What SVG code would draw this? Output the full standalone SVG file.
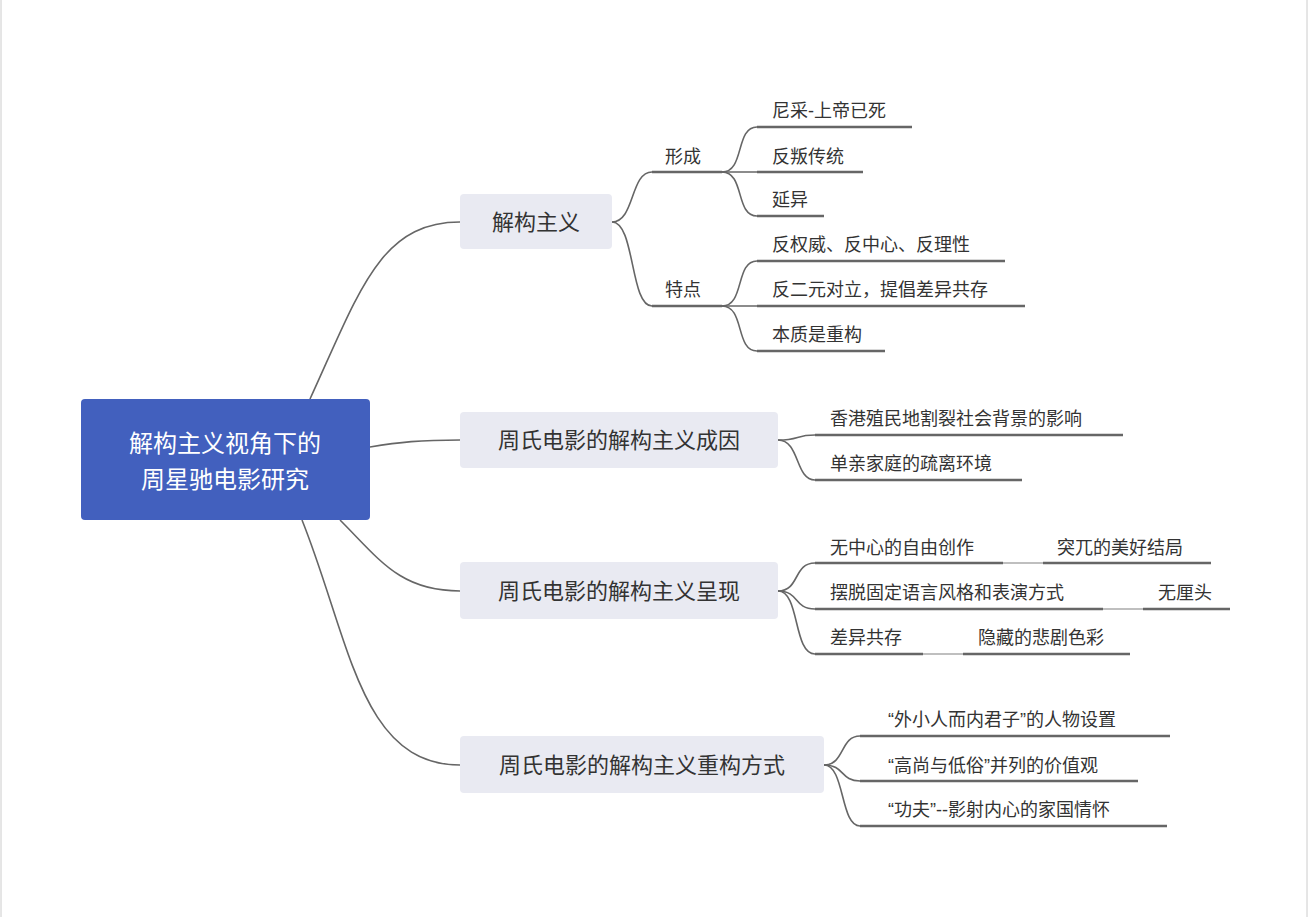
<svg xmlns="http://www.w3.org/2000/svg" width="1309" height="917" viewBox="0 0 1309 917">
<style>
text{font-family:"Liberation Sans","Noto Sans CJK SC",sans-serif;fill:#333}
.leaf{font-size:18px}
.main{font-size:22px;text-anchor:middle}
.mn{fill:#E9EAF2}
.c{fill:none;stroke:#666;stroke-width:1.6}
.u{stroke:#666;stroke-width:2.5}
.l{stroke:#aaa;stroke-width:1.5}
</style>
<rect width="1309" height="917" fill="#fff"/>
<line x1="1" y1="0" x2="1" y2="917" stroke="#ccc"/>
<line x1="1307" y1="0" x2="1307" y2="917" stroke="#ccc"/>
<g id="connectors">
<path class="c" d="M310,399 C360,290 380,222 460,222"/>
<path class="c" d="M370,447 C400,442 420,440 460,440"/>
<path class="c" d="M340,520 C380,560 400,591 460,591"/>
<path class="c" d="M302,520 C350,640 360,765 460,765"/>
<path class="c" d="M612,222 C635,222 630,172 652,172"/>
<path class="c" d="M612,222 C635,222 630,306 652,306"/>
<path class="c" d="M722,172 C745,172 735,127 757,127"/>
<path class="c" d="M722,172 L757,172"/>
<path class="c" d="M722,172 C745,172 735,216 757,216"/>
<path class="c" d="M722,306 C745,306 735,261 757,261"/>
<path class="c" d="M722,306 L757,306"/>
<path class="c" d="M722,306 C745,306 735,351 757,351"/>
<path class="c" d="M778,440 C800,440 795,435 815,435"/>
<path class="c" d="M778,440 C800,440 795,480 815,480"/>
<path class="c" d="M778,591 C800,591 793,563 815,563"/>
<path class="c" d="M778,591 C800,591 793,609 815,609"/>
<path class="c" d="M778,591 C800,591 793,654 815,654"/>
<path class="c" d="M824,765 C845,765 840,736 860,736"/>
<path class="c" d="M824,765 C845,765 840,781 860,781"/>
<path class="c" d="M824,765 C845,765 840,826 860,826"/>
<line class="l" x1="1003" y1="563" x2="1043" y2="563"/>
<line class="l" x1="1103" y1="609" x2="1143" y2="609"/>
<line class="l" x1="923" y1="654" x2="963" y2="654"/>
</g>
<g id="root">
<rect x="81" y="399" width="289" height="121" rx="4" fill="#4260BE"/>
<text x="225" y="452" font-size="24" text-anchor="middle" style="fill:#fff">解构主义视角下的</text>
<text x="225" y="488" font-size="24" text-anchor="middle" style="fill:#fff">周星驰电影研究</text>
</g>
<g id="n1"><rect class="mn" x="460" y="194" width="152" height="55" rx="4"/><text class="main" x="536" y="230">解构主义</text></g>
<g id="n2"><rect class="mn" x="460" y="412" width="318" height="56" rx="4"/><text class="main" x="619" y="448">周氏电影的解构主义成因</text></g>
<g id="n3"><rect class="mn" x="460" y="562" width="318" height="57" rx="4"/><text class="main" x="619" y="599">周氏电影的解构主义呈现</text></g>
<g id="n4"><rect class="mn" x="460" y="736" width="364" height="57" rx="4"/><text class="main" x="642" y="773">周氏电影的解构主义重构方式</text></g>
<g id="n1a"><line class="u" x1="652" y1="172" x2="722" y2="172"/><text class="leaf" x="665" y="163">形成</text></g>
<g id="n1b"><line class="u" x1="652" y1="306" x2="722" y2="306"/><text class="leaf" x="665" y="296">特点</text></g>
<g id="l1"><line class="u" x1="757" y1="127" x2="912" y2="127"/><text class="leaf" x="772" y="117">尼采-上帝已死</text></g>
<g id="l2"><line class="u" x1="757" y1="172" x2="863" y2="172"/><text class="leaf" x="772" y="163">反叛传统</text></g>
<g id="l3"><line class="u" x1="757" y1="216" x2="824" y2="216"/><text class="leaf" x="772" y="206">延异</text></g>
<g id="l4"><line class="u" x1="757" y1="261" x2="1005" y2="261"/><text class="leaf" x="772" y="251">反权威、反中心、反理性</text></g>
<g id="l5"><line class="u" x1="757" y1="306" x2="1025" y2="306"/><text class="leaf" x="772" y="296">反二元对立，提倡差异共存</text></g>
<g id="l6"><line class="u" x1="757" y1="351" x2="885" y2="351"/><text class="leaf" x="772" y="341">本质是重构</text></g>
<g id="l7"><line class="u" x1="815" y1="435" x2="1123" y2="435"/><text class="leaf" x="830" y="425">香港殖民地割裂社会背景的影响</text></g>
<g id="l8"><line class="u" x1="815" y1="480" x2="1022" y2="480"/><text class="leaf" x="830" y="470">单亲家庭的疏离环境</text></g>
<g id="l9"><line class="u" x1="815" y1="563" x2="1003" y2="563"/><text class="leaf" x="830" y="554">无中心的自由创作</text></g>
<g id="l9a"><line class="u" x1="1043" y1="563" x2="1211" y2="563"/><text class="leaf" x="1057" y="554">突兀的美好结局</text></g>
<g id="l10"><line class="u" x1="815" y1="609" x2="1103" y2="609"/><text class="leaf" x="830" y="599">摆脱固定语言风格和表演方式</text></g>
<g id="l10a"><line class="u" x1="1143" y1="609" x2="1230" y2="609"/><text class="leaf" x="1158" y="599">无厘头</text></g>
<g id="l11"><line class="u" x1="815" y1="654" x2="923" y2="654"/><text class="leaf" x="830" y="644">差异共存</text></g>
<g id="l11a"><line class="u" x1="963" y1="654" x2="1130" y2="654"/><text class="leaf" x="978" y="644">隐藏的悲剧色彩</text></g>
<g id="l12"><line class="u" x1="860" y1="736" x2="1170" y2="736"/><text class="leaf" x="888" y="726">“外小人而内君子”的人物设置</text></g>
<g id="l13"><line class="u" x1="860" y1="781" x2="1138" y2="781"/><text class="leaf" x="888" y="772">“高尚与低俗”并列的价值观</text></g>
<g id="l14"><line class="u" x1="860" y1="826" x2="1167" y2="826"/><text class="leaf" x="888" y="816">“功夫”--影射内心的家国情怀</text></g>
</svg>
